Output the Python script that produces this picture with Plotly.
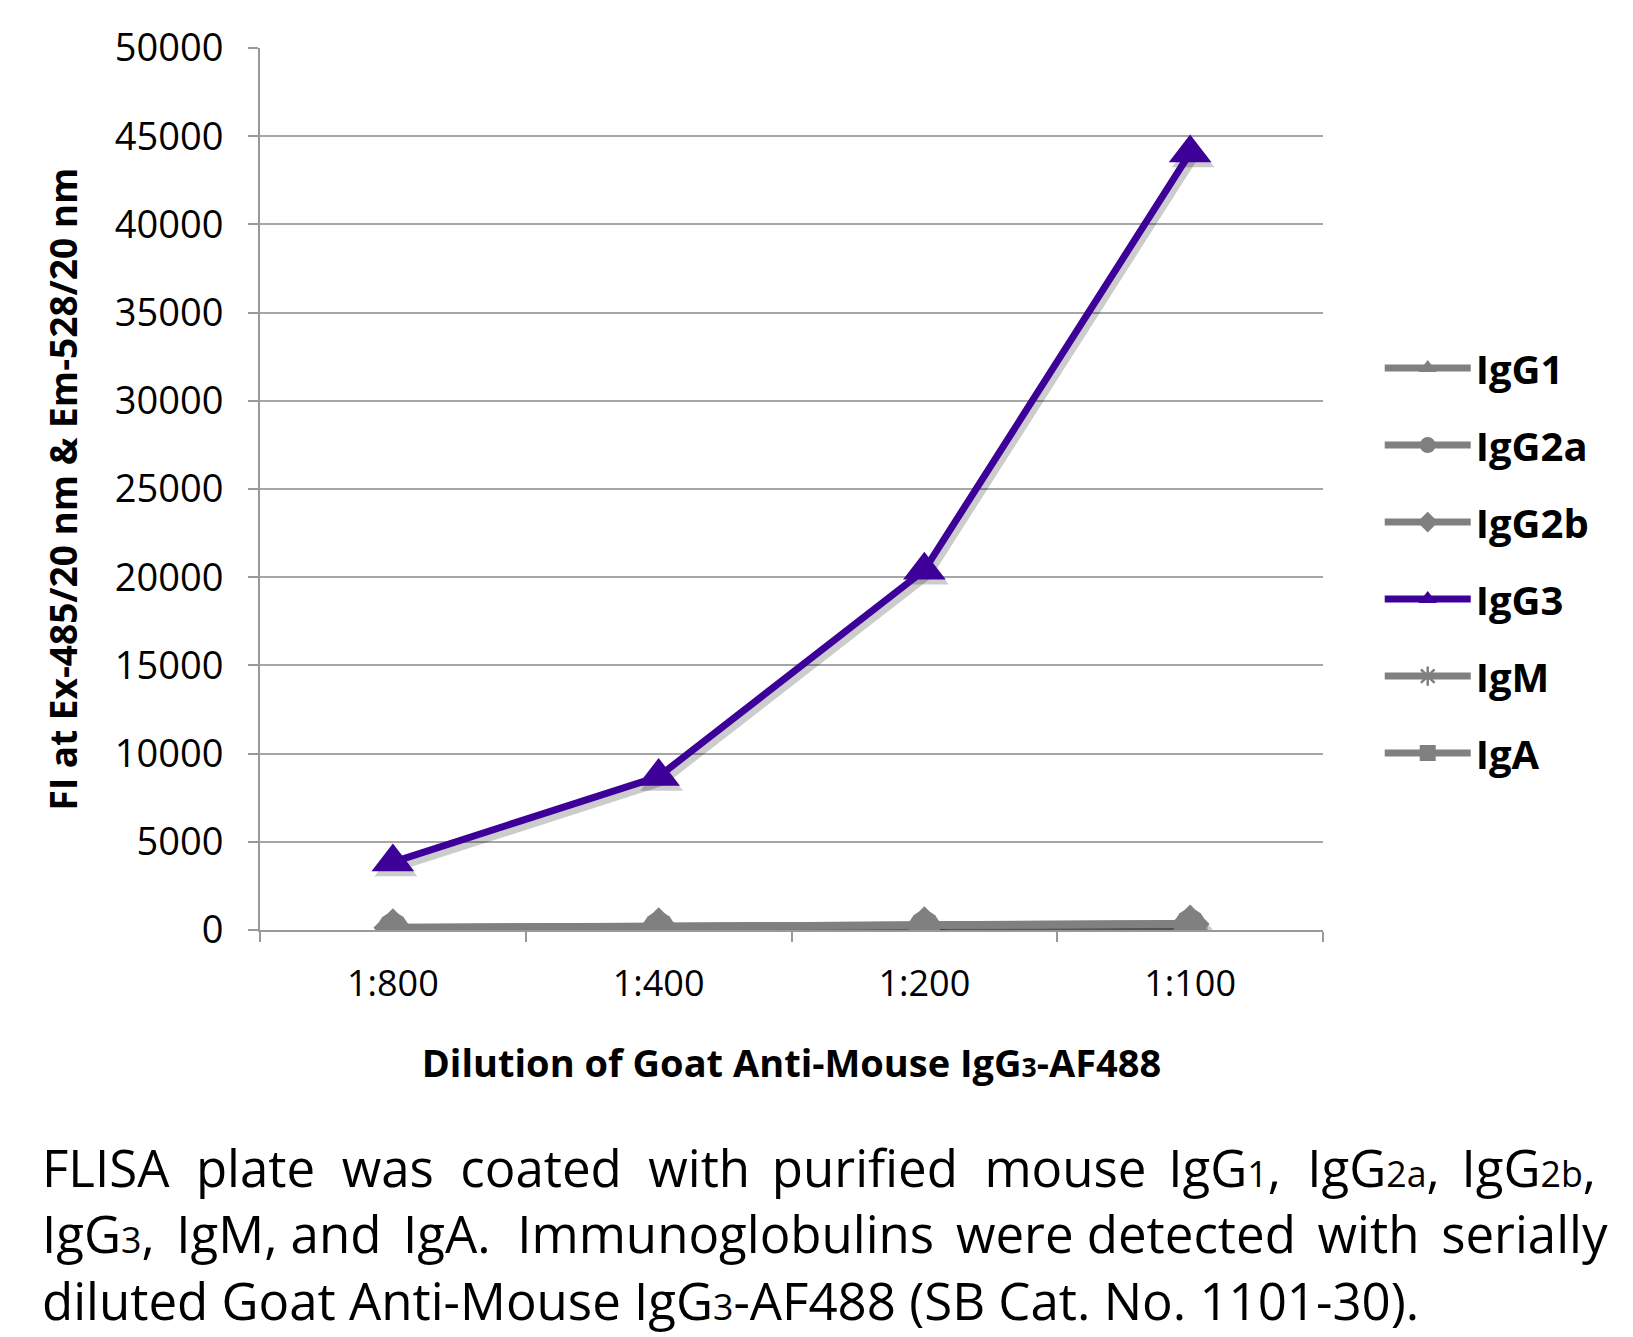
import plotly.graph_objects as go

categories = ["1:800", "1:400", "1:200", "1:100"]
series_names = ["IgG1", "IgG2a", "IgG2b", "IgG3", "IgM", "IgA"]
igg1 = [150, 200, 260, 360]
igg2a = [110, 160, 220, 320]
igg2b = [130, 180, 240, 340]
igg3 = [3850, 8700, 20400, 44050]
igm = [140, 190, 250, 370]
iga = [120, 170, 230, 330]
y_ticks = [0, 5000, 10000, 15000, 20000, 25000, 30000, 35000, 40000, 45000, 50000]

values = [igg1, igg2a, igg2b, igg3, igm, iga]
symbols = ["triangle-up", "circle", "diamond", "triangle-up", "asterisk-open", "square"]
colors = ["#808080", "#808080", "#808080", "#3d0099", "#808080", "#808080"]
sizes = [32, 30, 30, 37, 24, 22]

xpos = list(range(len(categories)))
boundaries = [i - 0.5 for i in range(len(categories) + 1)]

W, H = 1633, 1337
L, R, T, B = 252, 318, 38, 415
PW, PH = W - L - R, H - T - B
OFF = 8  # page body margin

XR = [-0.5, len(categories) - 0.5]
YR = [0, 50000]
# shadow offset (pixels -> axis units)
sdx = 3 * (XR[1] - XR[0]) / PW
sdy = 5 * (YR[1] - YR[0]) / PH


def small(s):
    """small inline figure on the baseline (as in the reference)"""
    return '<span style="font-size:70%">' + s + '</span>'


fig = go.Figure()
# empty trace so the base subplot (axes, grid) is drawn
fig.add_trace(go.Scatter(x=[], y=[], showlegend=False, hoverinfo="skip"))
# soft drop shadows (overlay axes x2/y2, shifted range)
for name, vals, sym, sz in zip(series_names, values, symbols, sizes):
    fig.add_trace(go.Scatter(
        x=xpos, y=vals, mode="lines+markers", showlegend=False, hoverinfo="skip",
        line=dict(color="rgba(0,0,0,0.2)", width=9),
        marker=dict(symbol=sym if sym != "asterisk-open" else "circle", size=sz,
                    color="rgba(0,0,0,0.2)"),
        xaxis="x2", yaxis="y2",
    ))
# main series (overlay axes x3/y3)
for name, vals, sym, col, sz in zip(series_names, values, symbols, colors, sizes):
    fig.add_trace(go.Scatter(
        x=xpos, y=vals, name=name, mode="lines+markers",
        line=dict(color=col, width=7),
        marker=dict(symbol=sym, size=sz, color=col,
                    line=dict(color=col, width=2.5 if sym == "asterisk-open" else 0)),
        legendgroup=name, xaxis="x3", yaxis="y3",
    ))

fig.update_layout(
    width=W, height=H,
    margin=dict(l=L, r=R, t=T, b=B),
    paper_bgcolor="white", plot_bgcolor="white",
    font=dict(family="Open Sans", color="black"),
    showlegend=True,
    legend=dict(
        xref="container", yref="container", x=0.840, y=0.755,
        xanchor="left", yanchor="top",
        font=dict(family="Open Sans", size=40, weight="bold", color="black"),
        tracegroupgap=22, itemwidth=86, bgcolor="rgba(0,0,0,0)",
    ),
    xaxis=dict(
        range=XR, tickvals=xpos, ticktext=categories,
        showline=True, linecolor="#999999", linewidth=2,
        ticks="", ticklabelstandoff=21,
        minor=dict(tickvals=boundaries, ticks="outside", ticklen=10,
                   tickcolor="#999999", tickwidth=2, showgrid=False),
        tickfont=dict(family="Open Sans", size=36, color="black"),
        showgrid=False, zeroline=False,
        title=dict(text="<b>Dilution of Goat Anti-Mouse IgG" + small("3") + "-AF488</b>",
                   font=dict(family="Open Sans", size=38, color="black"), standoff=44),
    ),
    yaxis=dict(
        range=YR, tickvals=y_ticks, ticktext=[str(v) for v in y_ticks],
        showline=True, linecolor="#999999", linewidth=2,
        ticks="outside", ticklen=10, tickcolor="#999999", tickwidth=2,
        ticklabelstandoff=17,
        showgrid=True, gridcolor="#a6a6a6", gridwidth=2,
        zeroline=False,
        tickfont=dict(family="Open Sans", size=38, color="black"),
        title=dict(text="<b>FI at Ex-485/20 nm &amp; Em-528/20 nm</b>",
                   font=dict(family="Open Sans", size=37, color="black"), standoff=26),
    ),
    xaxis2=dict(range=[XR[0] - sdx, XR[1] - sdx], overlaying="x", visible=False),
    yaxis2=dict(range=[YR[0] + sdy, YR[1] + sdy], overlaying="y", visible=False),
    xaxis3=dict(range=XR, overlaying="x", visible=False),
    yaxis3=dict(range=YR, overlaying="y", visible=False),
)

caption_lines = [
    "FLISA  plate  was  coated  with\u2009 purified  mouse\u2009 IgG" + small("1") + ",  IgG"
    + small("2a") + ",\u2009 IgG" + small("2b") + ",",
    "IgG" + small("3") + ",\u2009 IgM, and\u2009 IgA.  Immunoglobulins\u2009 were detected\u2009 with\u2009 serially",
    "diluted Goat Anti-Mouse IgG" + small("3") + "-AF488 (SB Cat. No. 1101-30).",
]
caption_center_y = 1234
fig.add_annotation(
    text="<br>".join(caption_lines), xref="paper", yref="paper",
    x=(40 - OFF - L) / PW, y=1 - (caption_center_y - OFF - T) / PH,
    xanchor="left", yanchor="middle", align="left", showarrow=False,
    font=dict(family="Open Sans", size=51, color="black"),
)

fig.write_html("out.html")
